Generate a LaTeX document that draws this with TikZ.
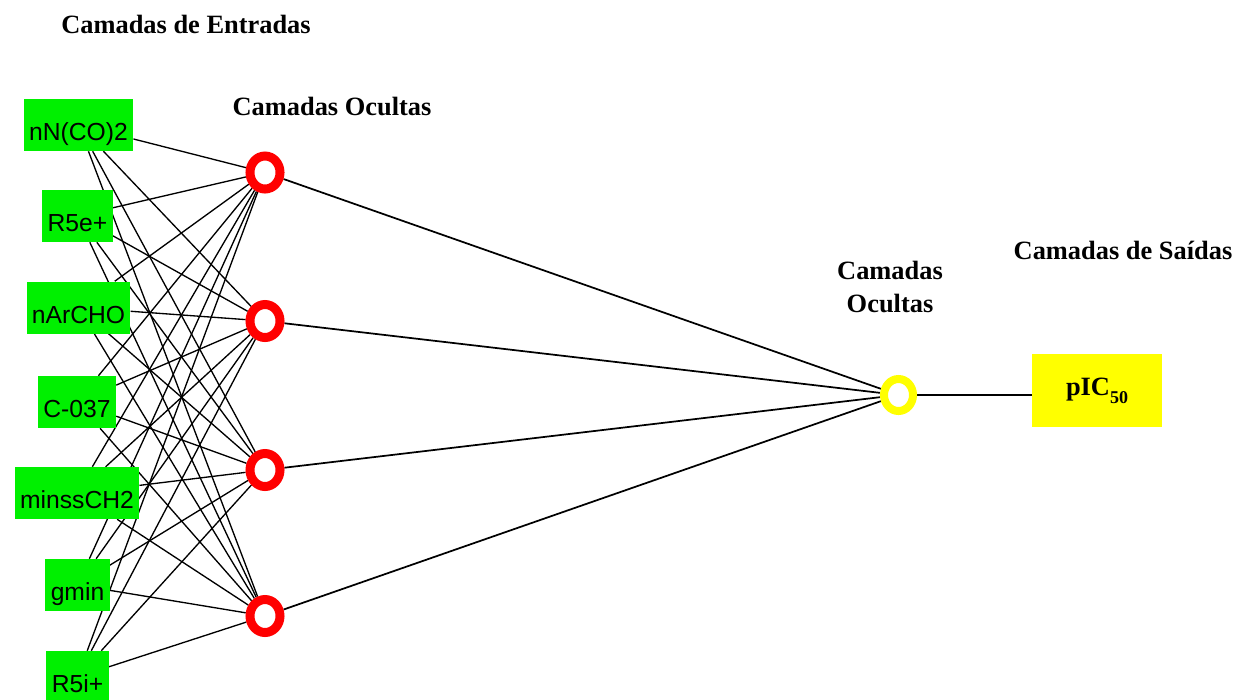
\documentclass[tikz,border=0pt]{standalone}
\usepackage{fontspec}
\usetikzlibrary{shapes.geometric,backgrounds}
\setmainfont{Liberation Serif}
\setsansfont{Liberation Sans}
\definecolor{boxgreen}{RGB}{0,240,0}
\definecolor{pureyellow}{RGB}{255,255,0}
\definecolor{purered}{RGB}{255,0,0}
\begin{document}
\begin{tikzpicture}[x=0.75pt,y=-0.75pt,
  inbox/.style={fill=boxgreen, draw=none, minimum height=39pt, inner xsep=4pt, inner ysep=0pt,
    text height=23.25pt, text depth=0pt,
    font=\sffamily\fontsize{18.5}{22}\selectfont, text=black},
  hid/.style={ellipse, draw=purered, line width=6.75pt, minimum width=22.5pt, minimum height=24.75pt, inner sep=0pt},
  outn/.style={ellipse, draw=pureyellow, line width=6pt, minimum width=21.75pt, minimum height=24pt, inner sep=0pt},
  outbox/.style={fill=pureyellow, draw=none, minimum width=97.5pt, minimum height=54.75pt,
    font=\bfseries\fontsize{19.8}{24}\selectfont},
  lab/.style={font=\bfseries\fontsize{19.8}{25}\selectfont, inner sep=0pt},
  conn/.style={black, line width=1pt},
  conn2/.style={black, line width=1.3pt}]
\useasboundingbox (0,0) rectangle (1237,699);
% inputs
\node[inbox] (i1) at (78.5,125) {nN(CO)2};
\node[inbox] (i2) at (77.5,216) {R5e+};
\node[inbox] (i3) at (78.5,307.5) {nArCHO};
\node[inbox] (i4) at (77,402) {C-037};
\node[inbox] (i5) at (77,493) {minssCH2};
\node[inbox] (i6) at (77.5,585) {gmin};
\node[inbox] (i7) at (77.5,677) {R5i+};
% hidden
\node[hid] (h1) at (265,172.5) {};
\node[hid] (h2) at (265,321) {};
\node[hid] (h3) at (265,470) {};
\node[hid] (h4) at (265,616) {};
% output
\node[outn] (o) at (898.5,395) {};
\node[outbox] (p) at (1097,390.5) {pIC\raisebox{-6pt}{\fontsize{13.5}{14}\selectfont 50}};
% labels
\node[lab] (t1) at (186,24) {Camadas de Entradas};
\node[lab] (t2) at (332,107) {Camadas Ocultas};
\node[lab, align=center] (t3) at (890,287) {Camadas\\Ocultas};
\node[lab] (t4) at (1123,250) {Camadas de Saídas};
% connections
\begin{pgfonlayer}{background}
\fill[white] (0,0) rectangle (1237,699);
\foreach \i in {1,...,7}{
  \foreach \j in {1,...,4}{
    \draw[conn] (i\i) -- (h\j);
  }
}
\foreach \j in {1,...,4}{
  \draw[conn2] (h\j) -- (o);
}
\draw[conn2] (o) -- (o -| p.west);
\end{pgfonlayer}
\end{tikzpicture}
\end{document}
